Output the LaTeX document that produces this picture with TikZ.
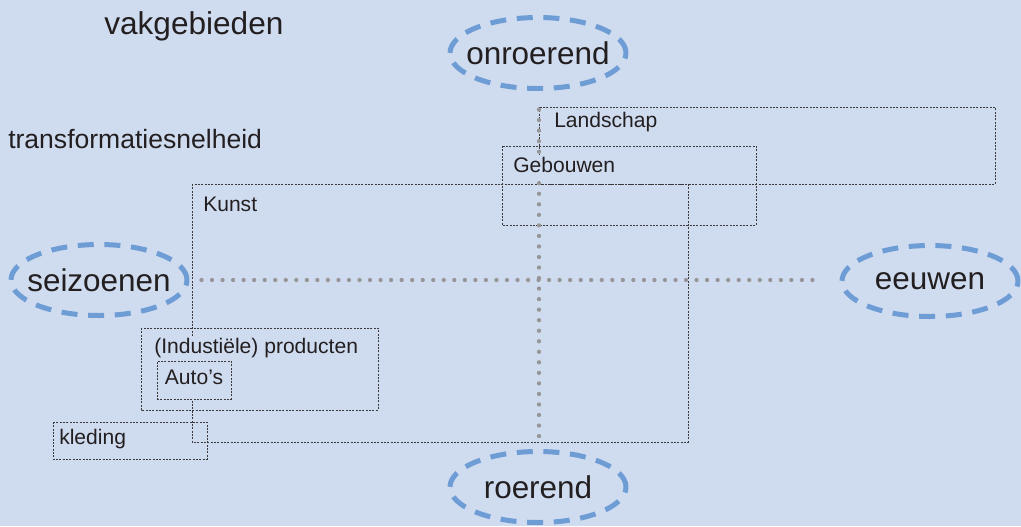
\documentclass[tikz,border=0pt]{standalone}
\usepackage{fontspec}
\setmainfont{Liberation Sans}
\usepackage{tikz}
\usetikzlibrary{shapes.geometric}
\definecolor{achtergrond}{HTML}{CFDBEF}
\definecolor{ellipsblauw}{HTML}{6E9CD5}
\definecolor{asgrijs}{HTML}{969696}
\definecolor{tekst}{HTML}{231F20}
\definecolor{kaderlijn}{HTML}{3A3A3A}
\newcommand{\midden}[1]{\makebox[0pt]{#1}}

\begin{document}
\begin{tikzpicture}[x=0.75pt,y=-0.75pt,
    pool/.style={ellipse,draw=ellipsblauw,line width=3.75pt,dash pattern=on 12pt off 8pt,
        minimum width=132pt,minimum height=53.25pt,inner sep=0pt,text=tekst,
        font=\fontsize{23.6}{28}\selectfont},
    as/.style={draw=asgrijs,line width=3.2pt,line cap=round,dash pattern=on 0pt off 7.9pt},
    kader/.style={draw=kaderlijn,line width=0.75pt,dash pattern=on 1.5pt off 1pt},
    etiket/.style={anchor=base west,fill=achtergrond,text=tekst,inner sep=1.5pt,
        text height=11.5pt,text depth=5pt,font=\fontsize{15.8}{19}\selectfont},
    kop/.style={anchor=base west,inner sep=0pt,text=tekst}]
    \useasboundingbox (0,0) rectangle (1021,526);
    \fill[achtergrond] (0,0) rectangle (1021,526);
    \node[kop,font=\fontsize{23.7}{28}\selectfont] (vak) at (104,34) {vakgebieden};
    \node[kop,font=\fontsize{19.9}{24}\selectfont] (trans) at (8,148) {transformatiesnelheid};
    \node[pool] (onroerend) at (538,53) {\midden{onroerend}};
    \node[pool] (roerend) at (538,487) {\midden{roerend}};
    \node[pool] (seizoenen) at (99,280) {\midden{seizoenen}};
    \node[pool] (eeuwen) at (930,281) {\midden{eeuwen}};
    % kaders
    \draw[kader] (53,422) rectangle (207,459);
    \draw[kader] (192,184) rectangle (688,442);
    \draw[kader] (539,107) rectangle (995,184);
    \draw[kader] (502,146) rectangle (756,225);
    \draw[kader] (141,328) rectangle (378,410);
    % assen
    \draw[as,shorten <=9pt,shorten >=12.75pt] (seizoenen) -- (seizoenen -| eeuwen.west);
    \draw[as,shorten <=13.9pt,shorten >=7.1pt] (onroerend.south -| 539,0) -- (roerend.north -| 539,0);
    \node[etiket] (landschap) at (552,127) {Landschap};
    \node[etiket] (gebouwen) at (511,172) {Gebouwen};
    \node[etiket] (kunst) at (201,211) {Kunst};
    \node[etiket] (producten) at (152,353) {(Industiële) producten};
    \node[etiket,kader,anchor=center,minimum width=55.5pt,minimum height=28.5pt] (autos) at (194,380) {Auto’s};
    \node[etiket] (kleding) at (57,444) {kleding};
\end{tikzpicture}
\end{document}
